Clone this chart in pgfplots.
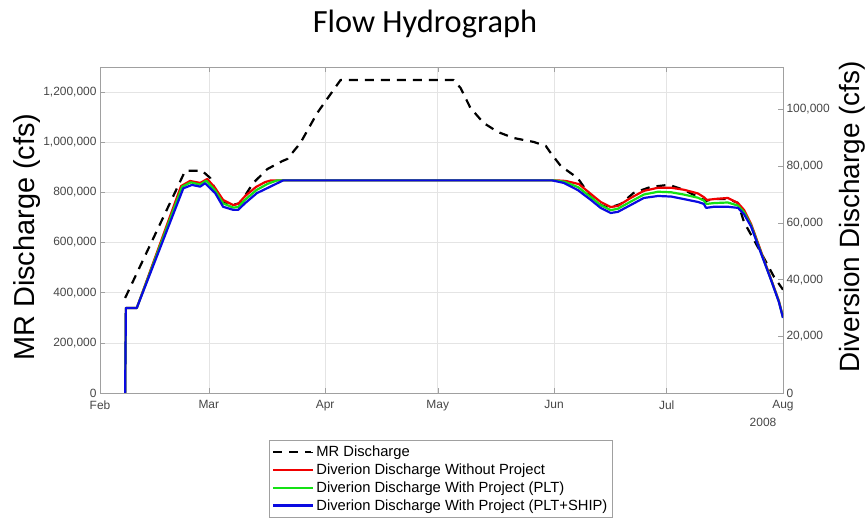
\documentclass[border=0pt]{standalone}
\usepackage{fontspec}
\setmainfont{Liberation Sans}
\newfontfamily\carlito{Carlito}
\usepackage{pgfplots}
\pgfplotsset{compat=1.18}
\definecolor{tickgray}{RGB}{70,70,70}
\definecolor{gridgray}{RGB}{228,228,228}
\definecolor{framegray}{RGB}{160,160,160}
\definecolor{mred}{RGB}{240,0,0}
\definecolor{mgreen}{RGB}{20,225,20}
\definecolor{mblue}{RGB}{10,10,225}
\pgfplotsset{
  common/.style={
    width=683bp, height=326bp, scale only axis,
    at={(100bp,134bp)}, anchor=south west,
    xmin=0, xmax=182,
    tick align=inside,
    major tick length=5bp,
    every tick/.style={framegray},
    axis line style={framegray},
    tick label style={font=\fontsize{12}{14}\selectfont, text=tickgray},
    xticklabel style={yshift=-4bp},
    /pgf/number format/.cd, 1000 sep={,}, fixed, assume math mode=true,
    /pgfplots/.cd,
    scaled y ticks=false,
    ylabel style={font=\fontsize{29}{33}\selectfont, text=black},
  },
  dline/.style={line width=2.2bp, line join=round},
}
\begin{document}
\begin{tikzpicture}
\useasboundingbox (0,0) rectangle (867bp,527bp);
\begin{axis}[common, name=main,
  ymin=0, ymax=1300000,
  ytick={0,200000,400000,600000,800000,1000000,1200000},
  xtick={0,29,60,90,121,151,182},
  xticklabels={Feb,Mar,Apr,May,Jun,Jul,Aug},
  ytick pos=left, xtick pos=both,
  grid=major, major grid style={gridgray, line width=0.6bp},
  ylabel={MR Discharge (cfs)},
  ylabel style={at={(axis description cs:-0.107,0.478)}, anchor=center},
]
\addplot[dline, black, dash pattern=on 9bp off 7bp] coordinates {
(6.7,379000) (22.7,886000) (27.2,886000) (29.4,857000) (30.7,810000)
(32.8,758000) (35.5,750000) (37.4,758000) (40.8,837000) (44.6,893000)
(48.6,925000) (49.9,933000) (53.4,997000) (57.9,1117000) (62.2,1208000)
(64.1,1248000) (94.2,1248000) (96.1,1216000) (98.7,1137000) (102.2,1077000)
(106.0,1041000) (110.2,1017000) (115.6,1001000) (118.8,985000) (120.1,957000)
(122.8,905000) (127.3,857000) (128.6,829000) (130.8,782000) (133.4,750000)
(135.6,738000) (138.8,754000) (142.2,798000) (146.8,822000) (151.6,830000)
(155.6,810000) (158.8,786000) (161.5,766000) (163.6,774000) (167.3,774000)
(170.0,758000) (171.6,682000) (175.3,582000) (177.5,522000) (179.6,463000)
(182,412000)
};
\end{axis}
\begin{axis}[common,
  ymin=0, ymax=115000,
  ytick={0,20000,40000,60000,80000,100000},
  axis y line*=right, axis x line=none,
  ylabel={Diversion Discharge (cfs)},
  ylabel style={at={(axis description cs:1.101,0.54)}, anchor=center, rotate=0, font=\fontsize{28}{32}\selectfont},
  legend style={at={(axis description cs:0.499,-0.144)}, anchor=north,
    draw=framegray, font=\fontsize{14.8}{17.6}\selectfont, cells={anchor=west},
    inner xsep=3bp, inner ysep=4bp, row sep=1.6bp},
  legend image code/.code={\draw[#1, line width=2bp] (0bp,0bp) -- (38bp,0bp);
     \path (0bp,0bp) -- (40bp,0bp);},
]
\addlegendimage{black, dash pattern=on 9bp off 7bp}
\addlegendentry{MR Discharge}
\addplot[dline, mred] coordinates {
(6.7,0) (6.9,30000) (9.8,30000) (21.6,73000) (24.0,74800) (26.7,74100)
(28.6,75500) (30.7,72300) (32.8,68100) (35.5,66300) (36.8,66700) (38.7,69500)
(41.6,72700) (44.0,74400) (45.6,75000) (121.7,75000) (124.1,74800) (127.6,73700)
(130.8,70200) (133.4,67400) (136.1,65600) (138.0,66000) (141.4,68800) (144.9,71300)
(148.7,72400) (152.2,72400) (155.6,71700) (159.3,70400) (160.9,69100) (161.7,68100)
(163.6,68400) (167.3,68800) (170.0,67000) (171.6,64600) (173.5,59600) (176.1,50100)
(178.8,40200) (180.9,32500) (182,26800)
};
\addlegendentry{Diverion Discharge Without Project}
\addplot[dline, mgreen] coordinates {
(6.7,0) (6.9,30000) (9.8,30000) (21.9,72800) (24.2,74300) (26.7,73500)
(28.3,74900) (30.7,71400) (32.8,66900) (35.5,65400) (36.8,65600) (38.7,68200)
(41.7,71600) (44.7,73800) (47.2,75000) (121.0,75000) (123.8,74500) (127.4,72600)
(130.8,69100) (133.4,66300) (136.1,64500) (138.0,65000) (141.4,67500) (144.9,70000)
(148.7,71000) (152.2,70800) (155.6,70000) (159.3,68900) (160.9,67900) (161.6,66700)
(163.6,67000) (167.3,67200) (170.0,66100) (171.6,63800) (173.5,59100) (176.1,49700)
(178.8,40000) (180.9,32300) (182,26600)
};
\addlegendentry{Diverion Discharge With Project (PLT)}
\addplot[dline, mblue] coordinates {
(6.7,0) (6.9,30000) (9.8,30000) (22.2,72200) (24.5,73400) (26.7,72800)
(28.0,74000) (30.7,70500) (32.8,65700) (35.5,64600) (36.8,64600) (38.7,67000)
(41.8,70500) (45.4,72800) (48.8,75000) (120.5,75000) (123.6,74100) (127.3,71600)
(130.8,68100) (133.4,65300) (136.1,63500) (138.0,63900) (141.4,66300) (144.9,68800)
(148.7,69500) (152.2,69300) (155.6,68400) (159.3,67400) (160.9,66700) (161.5,65300)
(163.6,65700) (167.3,65700) (170.0,65300) (171.6,63100) (173.5,58700) (176.1,49400)
(178.8,39900) (180.9,32100) (182,26500)
};
\addlegendentry{Diverion Discharge With Project (PLT+SHIP)}
\end{axis}
\node[font=\fontsize{12}{14}\selectfont, text=tickgray] at ([xshift=-20bp,yshift=-29bp]main.south east) {2008};
\node[font=\carlito\fontsize{32.5}{36}\selectfont] at (425bp,503bp) {Flow Hydrograph};
\end{tikzpicture}
\end{document}
